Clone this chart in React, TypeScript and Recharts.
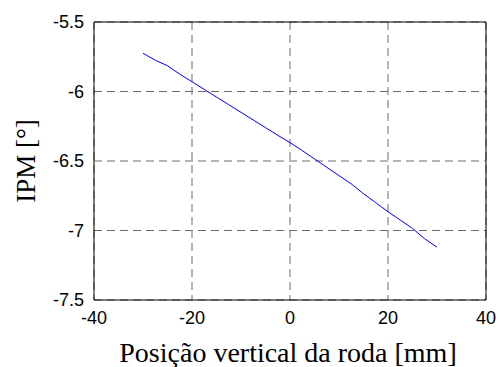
import { CartesianGrid, Line, LineChart, ReferenceArea, XAxis, YAxis } from "recharts";

const positions = [-30, -27.5, -25, -22.5, -20, -17.5, -15, -12.5, -10, -7.5, -5, -2.5, 0, 2.5, 5, 7.5, 10, 12.5, 15, 17.5, 20, 22.5, 25, 27.5, 30];
const ipm = [
  -5.725, -5.775, -5.815, -5.875, -5.93, -5.985, -6.04, -6.095, -6.15, -6.205, -6.26, -6.315, -6.368,
  -6.425, -6.485, -6.545, -6.605, -6.665, -6.735, -6.8, -6.865, -6.925, -6.985, -7.06, -7.12,
];
const xTicks = [-40, -20, 0, 20, 40];
const yTicks = [-7.5, -7, -6.5, -6, -5.5];

const data = positions.map((x, i) => ({ x, ipm: ipm[i] }));

const tickStyle = { fontSize: 18, fill: "#000", fontFamily: "'Liberation Sans', Arial, sans-serif" };
const labelFont = "'Liberation Serif', 'Times New Roman', serif";

export default function App() {
  return (
    <div style={{ position: "absolute", left: 0, top: 0, width: 498, height: 367, background: "#fff" }}>
      <LineChart width={498} height={367} data={data} margin={{ top: 22, right: 12, bottom: 0, left: 0 }}>
        <CartesianGrid stroke="#6a6a6a" strokeDasharray="8 5" />
        <XAxis
          dataKey="x"
          type="number"
          domain={[-40, 40]}
          ticks={xTicks}
          tick={tickStyle}
          tickLine={false}
          axisLine={false}
          tickSize={0}
          tickMargin={11}
          height={67}
          label={{
            content: ({ viewBox }: any) => (
              <text
                x={viewBox.x + viewBox.width / 2 - 2}
                y={362}
                textAnchor="middle"
                fontSize={28}
                fontFamily={labelFont}
                fill="#000"
              >
                Posição vertical da roda [mm]
              </text>
            ),
          }}
        />
        <YAxis
          type="number"
          domain={[-7.5, -5.5]}
          ticks={yTicks}
          tick={tickStyle}
          tickLine={false}
          axisLine={false}
          tickSize={0}
          tickMargin={10}
          width={94}
          label={{
            content: ({ viewBox }: any) => {
              const cy = viewBox.y + viewBox.height / 2;
              return (
                <text
                  x={35}
                  y={cy}
                  transform={`rotate(-90, 35, ${cy})`}
                  textAnchor="middle"
                  fontSize={27}
                  fontFamily={labelFont}
                  fill="#000"
                >
                  IPM [°]
                </text>
              );
            },
          }}
        />
        <ReferenceArea x1={-40} x2={40} y1={-7.5} y2={-5.5} fill="none" stroke="#000" strokeWidth={1} />
        <Line type="linear" dataKey="ipm" stroke="#0000ff" strokeWidth={1} dot={false} isAnimationActive={false} />
      </LineChart>
    </div>
  );
}
